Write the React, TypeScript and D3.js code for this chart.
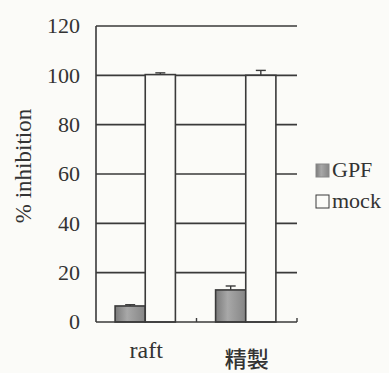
import React, { useEffect, useRef } from "react";
import * as d3 from "d3";

const categories = ["raft", "精製"];
const seriesNames = ["GPF", "mock"];
const gpfValues = [6.5, 13];
const gpfErrors = [0.5, 1.6];
const mockValues = [100.3, 100];
const mockErrors = [0.7, 2];
const yTicks = [0, 20, 40, 60, 80, 100, 120];

const W = 389;
const H = 373;

export default function App() {
  const ref = useRef<SVGSVGElement>(null);

  useEffect(() => {
    const svg = d3.select(ref.current);
    svg.selectAll("*").remove();

    const left = 96, right = 297, top = 26, bottom = 322;
    const font = "'Liberation Serif', 'Times New Roman', serif";
    const ink = "#3a3a3a";

    svg.append("rect").attr("width", W).attr("height", H).attr("fill", "#fbfbf8");

    const defs = svg.append("defs");
    const grad = defs
      .append("linearGradient")
      .attr("id", "gpfFill")
      .attr("x1", "0").attr("x2", "1").attr("y1", "0").attr("y2", "0");
    grad.append("stop").attr("offset", "0%").attr("stop-color", "#7a7a7a");
    grad.append("stop").attr("offset", "40%").attr("stop-color", "#a8a8a8");
    grad.append("stop").attr("offset", "100%").attr("stop-color", "#858585");

    const y = d3.scaleLinear().domain([0, 120]).range([bottom, top]);
    const x0 = d3.scaleBand().domain(categories).range([left, right]).padding(0);
    const bw = x0.bandwidth();
    const x1 = d3.scaleBand().domain(seriesNames).range([bw * 0.19, bw * 0.79]).padding(0);

    // gridlines
    svg
      .append("g")
      .selectAll("line")
      .data(yTicks.filter((d) => d > 0))
      .join("line")
      .attr("x1", left)
      .attr("x2", right)
      .attr("y1", (d) => y(d))
      .attr("y2", (d) => y(d))
      .attr("stroke", ink)
      .attr("stroke-width", 1.6);

    // y tick labels
    svg
      .append("g")
      .selectAll("text")
      .data(yTicks)
      .join("text")
      .attr("x", 80)
      .attr("y", (d) => y(d))
      .attr("dy", "0.33em")
      .attr("text-anchor", "end")
      .style("font-family", font)
      .style("font-size", "22px")
      .attr("fill", "#333")
      .text((d) => d);

    const rows = categories.map((c, i) => [
      { cat: c, key: "GPF", v: gpfValues[i], e: gpfErrors[i] },
      { cat: c, key: "mock", v: mockValues[i], e: mockErrors[i] },
    ]).flat();

    const g = svg.append("g");
    g.selectAll("rect")
      .data(rows)
      .join("rect")
      .attr("x", (d) => x0(d.cat)! + x1(d.key)!)
      .attr("y", (d) => y(d.v))
      .attr("width", x1.bandwidth())
      .attr("height", (d) => bottom - y(d.v))
      .attr("fill", (d) => (d.key === "GPF" ? "url(#gpfFill)" : "#fbfbf8"))
      .attr("stroke", ink)
      .attr("stroke-width", 1.6);

    // error bars
    const cap = 5;
    const eb = g.append("g").attr("stroke", ink).attr("stroke-width", 1.4);
    rows.forEach((d) => {
      const cx = x0(d.cat)! + x1(d.key)! + x1.bandwidth() / 2;
      eb.append("line").attr("x1", cx).attr("x2", cx).attr("y1", y(d.v)).attr("y2", y(d.v + d.e));
      eb.append("line").attr("x1", cx - cap).attr("x2", cx + cap).attr("y1", y(d.v + d.e)).attr("y2", y(d.v + d.e));
    });

    // axes lines
    svg.append("line").attr("x1", left).attr("x2", left).attr("y1", top).attr("y2", bottom)
      .attr("stroke", ink).attr("stroke-width", 1.6);
    svg.append("line").attr("x1", left).attr("x2", right).attr("y1", bottom).attr("y2", bottom)
      .attr("stroke", ink).attr("stroke-width", 1.6);
    svg
      .append("g")
      .selectAll("line")
      .data(categories)
      .join("line")
      .attr("x1", (d) => x0(d)! + bw)
      .attr("x2", (d) => x0(d)! + bw)
      .attr("y1", bottom)
      .attr("y2", bottom - 4)
      .attr("stroke", ink)
      .attr("stroke-width", 1.4);

    // category labels
    svg
      .append("g")
      .selectAll("text")
      .data(categories)
      .join("text")
      .attr("x", (d) => x0(d)! + bw / 2)
      .attr("y", (d, i) => (i === 0 ? 358 : 367))
      .attr("text-anchor", "middle")
      .style("font-family", (d, i) => (i === 0 ? font : "'Noto Sans CJK JP', sans-serif"))
      .style("font-size", (d, i) => (i === 0 ? "24px" : "22px"))
      .style("font-weight", (d, i) => (i === 0 ? "normal" : "500"))
      .attr("fill", "#333")
      .text((d) => d);

    // y axis title
    svg
      .append("text")
      .attr("transform", "translate(31,166) rotate(-90)")
      .attr("text-anchor", "middle")
      .style("font-family", font)
      .style("font-size", "23px")
      .attr("fill", "#333")
      .text("% inhibition");

    // legend
    const leg = svg.append("g");
    seriesNames.forEach((s, i) => {
      const ly = 164 + i * 31;
      leg.append("rect")
        .attr("x", 316).attr("y", ly).attr("width", 13).attr("height", 13)
        .attr("fill", s === "GPF" ? "url(#gpfFill)" : "#fbfbf8")
        .attr("stroke", s === "GPF" ? "#888" : ink)
        .attr("stroke-width", 1);
      leg.append("text")
        .attr("x", 332).attr("y", ly + 13)
        .style("font-family", font)
        .style("font-size", "22px")
        .attr("fill", "#333")
        .text(s);
    });
  }, []);

  return (
    <svg
      ref={ref}
      width={W}
      height={H}
      style={{ position: "absolute", left: 0, top: 0, display: "block" }}
    />
  );
}
